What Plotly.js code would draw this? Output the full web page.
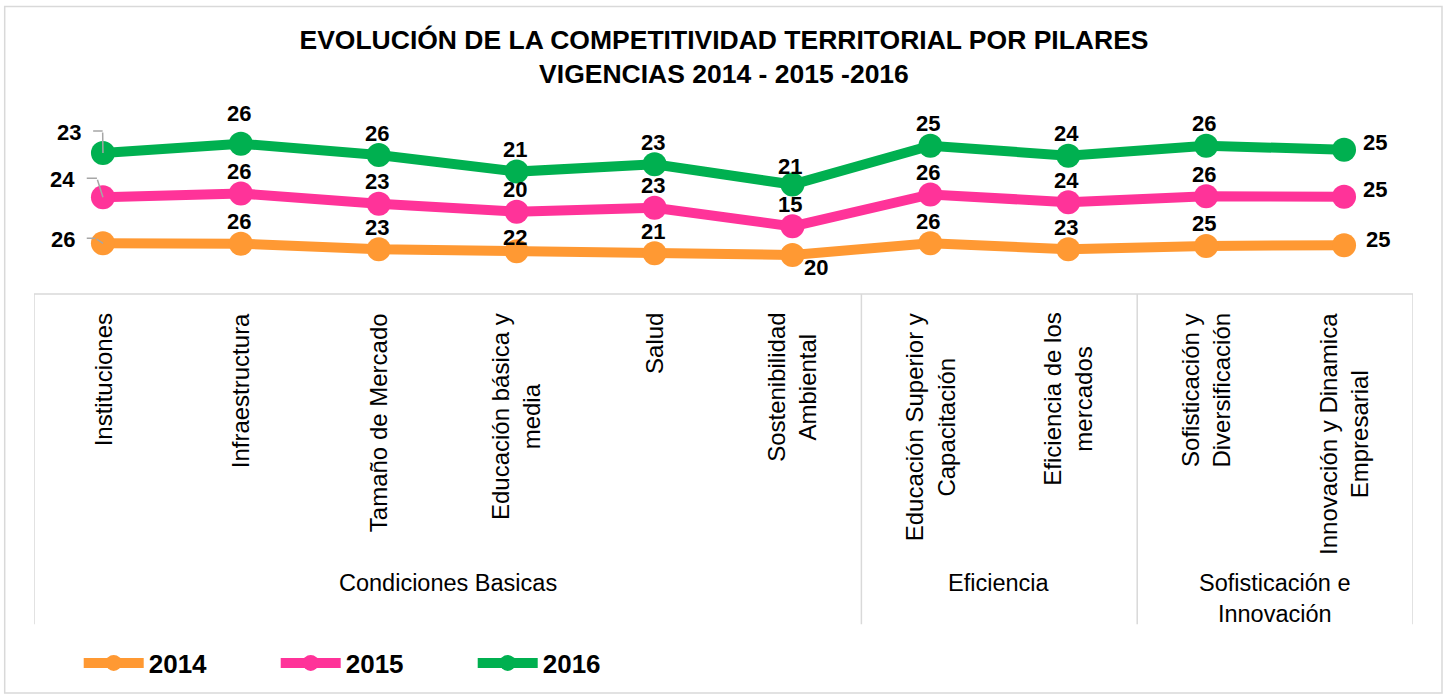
<!DOCTYPE html>
<html>
<head>
<meta charset="utf-8">
<script src="https://cdn.plot.ly/plotly-3.0.1.min.js"></script>
<style>html,body{margin:0;padding:0;background:#fff;}#chart{width:1446px;height:697px;}</style>
</head>
<body>
<div id="chart"></div>
<script>
// ---- DATA ----
const categorias = [
  "Instituciones",
  "Infraestructura",
  "Tamaño de Mercado",
  "Educación básica y<br>media",
  "Salud",
  "Sostenibilidad<br>Ambiental",
  "Educación Superior y<br>Capacitación",
  "Eficiencia de los<br>mercados",
  "Sofisticación y<br>Diversificación",
  "Innovación y Dinamica<br>Empresarial"
];
const grupos = ["Condiciones Basicas", "Eficiencia", "Sofisticación e<br>Innovación"];
const grupoInicio = [0, 6, 8];
const grupoFin = [5, 7, 9];

const anios = ["2014", "2015", "2016"];
// plotted values
const valores2014 = [5.10, 5.05, 4.50, 4.30, 4.10, 3.93, 5.10, 4.50, 4.83, 4.90];
const valores2015 = [9.73, 10.10, 9.07, 8.27, 8.67, 6.80, 10.00, 9.23, 9.83, 9.77];
const valores2016 = [14.17, 15.10, 13.97, 12.30, 13.03, 11.00, 14.90, 13.90, 14.90, 14.50];
// data labels (ranking positions)
const etiquetas2014 = [26, 26, 23, 22, 21, 20, 26, 23, 25, 25];
const etiquetas2015 = [24, 26, 23, 20, 23, 15, 26, 24, 26, 25];
const etiquetas2016 = [23, 26, 26, 21, 23, 21, 25, 24, 26, 25];

// ---- STYLE / LAYOUT ----
const colores = ["#FF9933", "#FF3399", "#00B050"];
const FONT = "Arial, 'Liberation Sans', sans-serif";
const W = 1446, H = 697;
const PL = 34.3, PR = 1413, PT = 95, PB = 295;
const px2x = px => (px - PL) / (PR - PL);
const py2y = py => (PB - py) / (PB - PT);

const series = [valores2014, valores2015, valores2016];
const etiquetas = [etiquetas2014, etiquetas2015, etiquetas2016];

const traces = series.map((vals, s) => ({
  type: "scatter",
  mode: "lines+markers",
  name: anios[s],
  x: categorias,
  y: vals,
  line: {color: colores[s], width: 10},
  marker: {color: colores[s], size: 24},
  cliponaxis: false,
  hoverinfo: "x+y+name"
}));

// label offsets (pixels): default above point
function offset(s, i) {
  let dx = -2, dy = 22;
  if (i === 9) { dx = (s === 0) ? 34 : 31; dy = (s === 0) ? 6 : 7; }
  if (s === 0 && i === 5) { dx = 24; dy = -13; }
  if (s === 0 && i === 3) { dy = 14; }
  if (s === 2 && i === 1) { dy = 30; }
  if (s === 2 && i === 5) { dy = 18; }
  if (i === 0) {
    dx = [-40, -40, -33.5][s];
    dy = [4, 17.5, 20.5][s];
  }
  return [dx, dy];
}
// leader line elbows for first column (pixel offsets from point: right, up, horizontal length)
const codos = [[-7.7, 5, 10], [-6, 19, 11.7], [-0.3, 22, 11]];

const annotations = [];
series.forEach((vals, s) => {
  vals.forEach((v, i) => {
    const [dx, dy] = offset(s, i);
    annotations.push({
      x: i, y: v, xref: "x", yref: "y",
      text: String(etiquetas[s][i]),
      showarrow: false, xshift: dx, yshift: dy,
      font: {family: FONT, size: 22, color: "#000", weight: "bold"}
    });
  });
  const [ex, ey, len] = codos[s];
  annotations.push({
    x: 0, y: vals[0], xref: "x", yref: "y", text: "",
    showarrow: true, arrowhead: 0, arrowwidth: 1.5, arrowcolor: "#A6A6A6",
    ax: ex, ay: -ey, standoff: 0, startstandoff: 0
  });
  annotations.push({
    x: 0, y: vals[0], xref: "x", yref: "y", text: "",
    xshift: ex, yshift: ey,
    showarrow: true, arrowhead: 0, arrowwidth: 1.5, arrowcolor: "#A6A6A6",
    ax: -len, ay: 0, standoff: 0, startstandoff: 0
  });
});

// category labels (rotated)
categorias.forEach((c, i) => {
  annotations.push({
    x: i, xref: "x", y: py2y(312), yref: "paper",
    text: c, textangle: -90, showarrow: false,
    xanchor: "center", yanchor: "top", align: "center",
    font: {family: FONT, size: 24, color: "#000"}
  });
});
// group labels
grupos.forEach((g, k) => {
  annotations.push({
    x: (grupoInicio[k] + grupoFin[k]) / 2, xref: "x", y: py2y(570), yref: "paper",
    text: g, showarrow: false, xanchor: "center", yanchor: "top", align: "center",
    font: {family: FONT, size: 23.5, color: "#000"}
  });
});

const lineStyle = {color: "#D9D9D9", width: 1.5};
const shapes = [
  {type: "line", xref: "x", yref: "paper", x0: -0.5, x1: 9.5, y0: 0, y1: 0, line: lineStyle, layer: "below"},
  {type: "rect", xref: "paper", yref: "paper", x0: px2x(5), x1: px2x(1442), y0: py2y(696), y1: py2y(6), line: lineStyle, layer: "below"}
];
const separadores = [-0.5].concat(grupoFin.map(f => f + 0.5));
separadores.forEach(xs => shapes.push({
  type: "line", xref: "x", yref: "paper", x0: xs, x1: xs, y0: 0, y1: py2y(627), line: lineStyle, layer: "below"
}));

const layout = {
  width: W, height: H,
  margin: {l: PL, r: W - PR, t: PT, b: H - PB, pad: 0},
  paper_bgcolor: "#fff", plot_bgcolor: "#fff",
  title: {
    text: "<b>EVOLUCIÓN DE LA COMPETITIVIDAD TERRITORIAL POR PILARES<br>VIGENCIAS 2014 - 2015 -2016</b>",
    font: {family: FONT, size: 26.5, color: "#000"},
    x: 723.5 / W, xanchor: "center", xref: "paper",
    y: 1 - 49 / H, yanchor: "top", yref: "container"
  },
  xaxis: {type: "category", range: [-0.5, 9.5], showticklabels: false, showgrid: false, zeroline: false, showline: false, ticks: "", fixedrange: true},
  yaxis: {range: [0, 20], visible: false, showgrid: false, zeroline: false, fixedrange: true},
  showlegend: true,
  legend: {
    orientation: "h", x: px2x(79), xanchor: "left", y: py2y(663), yanchor: "middle",
    font: {family: FONT, size: 26, color: "#000", weight: "bold"},
    itemwidth: 60, entrywidth: 122, entrywidthmode: "pixels",
    bgcolor: "rgba(0,0,0,0)", borderwidth: 0, traceorder: "normal"
  },
  annotations: annotations,
  shapes: shapes
};

Plotly.newPlot("chart", traces, layout, {displayModeBar: false, responsive: false});
</script>
</body>
</html>
